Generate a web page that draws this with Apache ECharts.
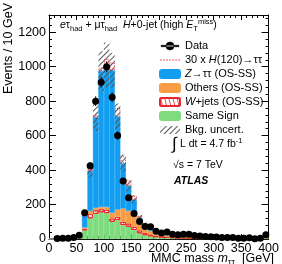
<!DOCTYPE html>
<html>
<head>
<meta charset="utf-8">
<script src="https://cdn.jsdelivr.net/npm/echarts@6/dist/echarts.min.js"></script>
<style>
  html, body { margin: 0; padding: 0; background: #fff; }
  #chart { width: 282px; height: 264px; }
</style>
</head>
<body>
<div id="chart"></div>
<script>
// 10 GeV bins, centres 5 .. 395 (last bin includes overflow)
const binCentres = [5, 15, 25, 35, 45, 55, 65, 75, 85, 95, 105, 115, 125, 135, 145, 155, 165, 175, 185, 195,
  205, 215, 225, 235, 245, 255, 265, 275, 285, 295, 305, 315, 325, 335, 345, 355, 365, 375, 385, 395]
const dataCounts = [0, 3, 5, 5, 8, 22, 152, 425, 800, 910, 1000, 823, 600, 336, 240, 148, 102, 73, 71, 45,
  35, 40, 27, 25, 27, 27, 20, 17, 14, 13, 11, 9, 8, 8, 5, 5, 7, 2, 4, 25]
const sameSign = [0, 1, 2, 2, 3, 14, 50, 120, 145, 155, 150, 100, 110, 81, 71, 52, 33, 22, 16, 10,
  8, 7, 6, 5, 5, 4, 4, 3, 3, 3, 2, 2, 2, 2, 2, 1, 1, 1, 1, 6]
const wJets = [0, 0, 0, 1, 1, 3, 8, 25, 22, 18, 20, 19, 18, 19, 19, 19, 17, 12, 10, 8,
  6, 5, 4, 4, 3, 3, 3, 2, 2, 2, 2, 2, 1, 1, 1, 1, 1, 1, 1, 4]
const others = [0, 0, 0, 0, 1, 3, 8, 18, 13, 12, 15, 33, 43, 77, 73, 77, 45, 30, 20, 13,
  10, 9, 8, 7, 6, 5, 5, 4, 4, 3, 3, 3, 3, 2, 2, 2, 2, 2, 1, 7]
const zTauTau = [0, 0, 0, 0, 0, 3, 74, 235, 527, 790, 825, 828, 540, 263, 147, 82, 30, 21, 16, 9,
  8, 7, 6, 5, 4, 4, 3, 3, 2, 2, 2, 1, 1, 1, 1, 1, 1, 0, 1, 8]
const bkgErr = [0, 1, 1, 1, 1, 4, 15, 40, 80, 115, 130, 100, 75, 50, 35, 25, 15, 10, 8, 6,
  5, 4, 4, 3, 3, 3, 3, 2, 2, 2, 2, 2, 2, 2, 2, 1, 1, 1, 1, 4]
const signal30 = [0, 0, 0, 0, 0, 0, 2, 6, 12, 20, 35, 45, 50, 40, 30, 20, 10, 5, 3, 2,
  1, 0, 0, 0, 0, 0, 0, 0, 0, 0, 0, 0, 0, 0, 0, 0, 0, 0, 0, 0]
const xTicks = [0, 50, 100, 150, 200, 250, 300, 350, 400]
const yTicks = [0, 200, 400, 600, 800, 1000, 1200]

const FONT = 'Liberation Sans'
const chart = echarts.init(document.getElementById('chart'), null, { renderer: 'canvas' })

const totalBkg = binCentres.map((_, i) => sameSign[i] + wJets[i] + others[i] + zTauTau[i])
const errBase = totalBkg.map((t, i) => t - bkgErr[i])
const errBand = bkgErr.map(e => 2 * e)
const sigPart = signal30.map(v => (v > 0 ? v : '-'))

const frameAxis = (pos, showLabel, isY) => ({
  type: 'value',
  position: pos,
  min: 0,
  max: isY ? 1300 : xTicks[xTicks.length - 1],
  interval: isY ? yTicks[1] - yTicks[0] : xTicks[1] - xTicks[0],
  axisLine: { show: true, onZero: false, lineStyle: { color: '#000', width: 1 } },
  axisTick: { show: true, inside: true, length: isY ? 7 : 5, lineStyle: { color: '#000' } },
  minorTick: { show: true, splitNumber: 5, length: 3, lineStyle: { color: '#000' } },
  splitLine: { show: false },
  axisLabel: {
    show: showLabel,
    showMaxLabel: !isY,
    margin: 3,
    color: '#000',
    fontFamily: FONT,
    fontSize: 12.5,
    formatter: v => String(v)
  }
})

const renderErr = (params, api) => {
  const i = api.value(0)
  const n = api.value(1)
  if (!n) return
  const c = api.coord([i, n])
  const w = api.size([1, 0])[0]
  const e = Math.sqrt(n)
  const top = api.coord([i, n + e])
  const bot = api.coord([i, n - e])
  return {
    type: 'group',
    children: [
      { type: 'line', shape: { x1: c[0], y1: top[1], x2: c[0], y2: bot[1] }, style: { stroke: '#000', lineWidth: 1 } },
      { type: 'line', shape: { x1: c[0] - w / 2, y1: c[1], x2: c[0] + w / 2, y2: c[1] }, style: { stroke: '#000', lineWidth: 1 } }
    ]
  }
}

const barBase = { type: 'bar', xAxisIndex: 0, yAxisIndex: 0, barGap: '-100%', barCategoryGap: '0%', animation: false }
const solid = c => ({ color: c, borderColor: c, borderWidth: 0.5 })
const dottedIcon = 'path://M0,4h1.6v1h-1.6z M3,4h1.6v1h-1.6z M6,4h1.6v1h-1.6z M9,4h1.6v1h-1.6z M12,4h1.6v1h-1.6z M15,4h1.6v1h-1.6z M18,4h1.6v1h-1.6z'
const dataIcon = 'path://M0,4.2h20v1.6h-20z M5.5,5a4.5,4.5 0 1,0 9,0a4.5,4.5 0 1,0 -9,0z'

const option = {
  animation: false,
  grid: { left: 49, right: 8, top: 15, bottom: 25 },
  xAxis: [
    { type: 'category', data: binCentres, show: false, boundaryGap: true },
    frameAxis('bottom', true, false),
    frameAxis('top', false, false)
  ],
  yAxis: [
    frameAxis('left', true, true),
    frameAxis('right', false, true)
  ],
  legend: {
    orient: 'vertical',
    left: 154,
    top: 35,
    itemWidth: 20,
    itemHeight: 8,
    itemGap: 2,
    selectedMode: false,
    textStyle: {
      fontFamily: FONT,
      fontSize: 11,
      lineHeight: 12,
      color: '#000',
      rich: { i: { fontFamily: FONT, fontSize: 11, lineHeight: 12, fontStyle: 'italic', color: '#000' } }
    },
    formatter: name => ({
      '30 x H(120)→ττ': '30 x {i|H}(120)→ττ',
      'Z→ττ (OS-SS)': '{i|Z}→ττ (OS-SS)',
      'W+jets (OS-SS)': '{i|W}+jets (OS-SS)'
    }[name] || name),
    data: [
      { name: 'Data', icon: dataIcon, itemStyle: { color: '#000', opacity: 1, borderColor: '#000', borderWidth: 0.6 } },
      { name: '30 x H(120)→ττ', icon: dottedIcon, itemStyle: { color: '#e8383d', borderWidth: 0 } },
      { name: 'Z→ττ (OS-SS)' },
      { name: 'Others (OS-SS)' },
      { name: 'W+jets (OS-SS)' },
      { name: 'Same Sign' },
      { name: 'Bkg. uncert.' }
    ]
  },
  graphic: [
    {
      type: 'text', x: 60, y: 25,
      style: {
        text: '{i|e}{n|τ}{s|had}{n| + μτ}{s|had}{n|  }{i|H}{n|+0-jet (high }{i|E}{s|T}{p|miss}{n|)}',
        verticalAlign: 'middle',
        rich: {
          n: { fontFamily: FONT, fontSize: 10.5, lineHeight: 15, verticalAlign: 'middle', fill: '#000' },
          i: { fontFamily: FONT, fontSize: 10.5, lineHeight: 15, verticalAlign: 'middle', fontStyle: 'italic', fill: '#000' },
          s: { fontFamily: FONT, fontSize: 7.5, lineHeight: 15, verticalAlign: 'bottom', fill: '#000' },
          p: { fontFamily: FONT, fontSize: 7.5, lineHeight: 15, verticalAlign: 'top', fill: '#000' }
        }
      }
    },
    { type: 'text', x: 172, y: 144, style: { text: '∫', font: '17px ' + FONT, fill: '#000', verticalAlign: 'middle' } },
    {
      type: 'text', x: 180, y: 144,
      style: {
        text: '{n|L dt = 4.7 fb}{p|-1}',
        verticalAlign: 'middle',
        rich: {
          n: { fontFamily: FONT, fontSize: 10.5, lineHeight: 15, verticalAlign: 'middle', fill: '#000' },
          p: { fontFamily: FONT, fontSize: 7.5, lineHeight: 15, verticalAlign: 'top', fill: '#000' }
        }
      }
    },
    { type: 'text', x: 173, y: 165, style: { text: '√s = 7 TeV', font: '10.5px ' + FONT, fill: '#000', verticalAlign: 'middle' } },
    { type: 'text', x: 174, y: 181, style: { text: 'ATLAS', font: 'italic bold 10.5px ' + FONT, fill: '#000', verticalAlign: 'middle' } },
    {
      type: 'text', x: 9, y: 3, rotation: Math.PI / 2,
      style: { text: 'Events / 10 GeV', font: '12.5px ' + FONT, fill: '#000', align: 'right', verticalAlign: 'middle' }
    },
    {
      type: 'text', x: 274, y: 259,
      style: {
        text: '{n|MMC mass }{i|m}{s|ττ}{n|  [GeV]}',
        align: 'right',
        verticalAlign: 'middle',
        rich: {
          n: { fontFamily: FONT, fontSize: 12.5, lineHeight: 17, verticalAlign: 'middle', fill: '#000' },
          i: { fontFamily: FONT, fontSize: 12.5, lineHeight: 17, verticalAlign: 'middle', fontStyle: 'italic', fill: '#000' },
          s: { fontFamily: FONT, fontSize: 9, lineHeight: 17, verticalAlign: 'bottom', fill: '#000' }
        }
      }
    }
  ],
  series: [
    {
      ...barBase, name: 'Same Sign', stack: 'bkg', data: sameSign,
      itemStyle: solid('#7edc7e')
    },
    {
      ...barBase, name: 'W+jets (OS-SS)', stack: 'bkg', data: wJets,
      itemStyle: {
        color: '#ffffff', borderColor: '#e8282d', borderWidth: 1,
        decal: { symbol: 'rect', symbolSize: 1, dashArrayX: [1, 3], dashArrayY: [1, 0], rotation: -0.25, color: '#ee5055' }
      }
    },
    {
      ...barBase, name: 'Others (OS-SS)', stack: 'bkg', data: others,
      itemStyle: solid('#f89c45')
    },
    {
      ...barBase, name: 'Z→ττ (OS-SS)', stack: 'bkg', data: zTauTau,
      itemStyle: solid('#129ef0')
    },
    {
      ...barBase, name: 'errBase', stack: 'unc', data: errBase,
      itemStyle: { color: 'rgba(0,0,0,0)' }, silent: true
    },
    {
      ...barBase, name: 'Bkg. uncert.', stack: 'unc', data: errBand,
      itemStyle: {
        color: 'rgba(0,0,0,0)',
        decal: { symbol: 'rect', symbolSize: 1, dashArrayX: [1, 0], dashArrayY: [1, 3], rotation: -Math.PI / 4, color: '#555555' }
      }
    },
    {
      ...barBase, name: 'sigBase', stack: 'sig', data: totalBkg,
      itemStyle: { color: 'rgba(0,0,0,0)' }, silent: true
    },
    {
      ...barBase, name: '30 x H(120)→ττ', stack: 'sig', data: sigPart,
      itemStyle: { color: 'rgba(0,0,0,0)', borderColor: '#e8383d', borderWidth: 1, borderType: 'dotted' }
    },
    {
      type: 'custom', name: 'dataErr', xAxisIndex: 0, yAxisIndex: 0,
      renderItem: renderErr,
      data: dataCounts.map((v, i) => [i, v]),
      z: 5
    },
    {
      type: 'scatter', name: 'Data', xAxisIndex: 0, yAxisIndex: 0,
      data: dataCounts.map(v => (v > 0 ? v : '-')),
      symbol: 'circle', symbolSize: 7,
      itemStyle: { color: '#000', opacity: 1 },
      z: 6
    }
  ]
}

chart.setOption(option)
</script>
</body>
</html>
